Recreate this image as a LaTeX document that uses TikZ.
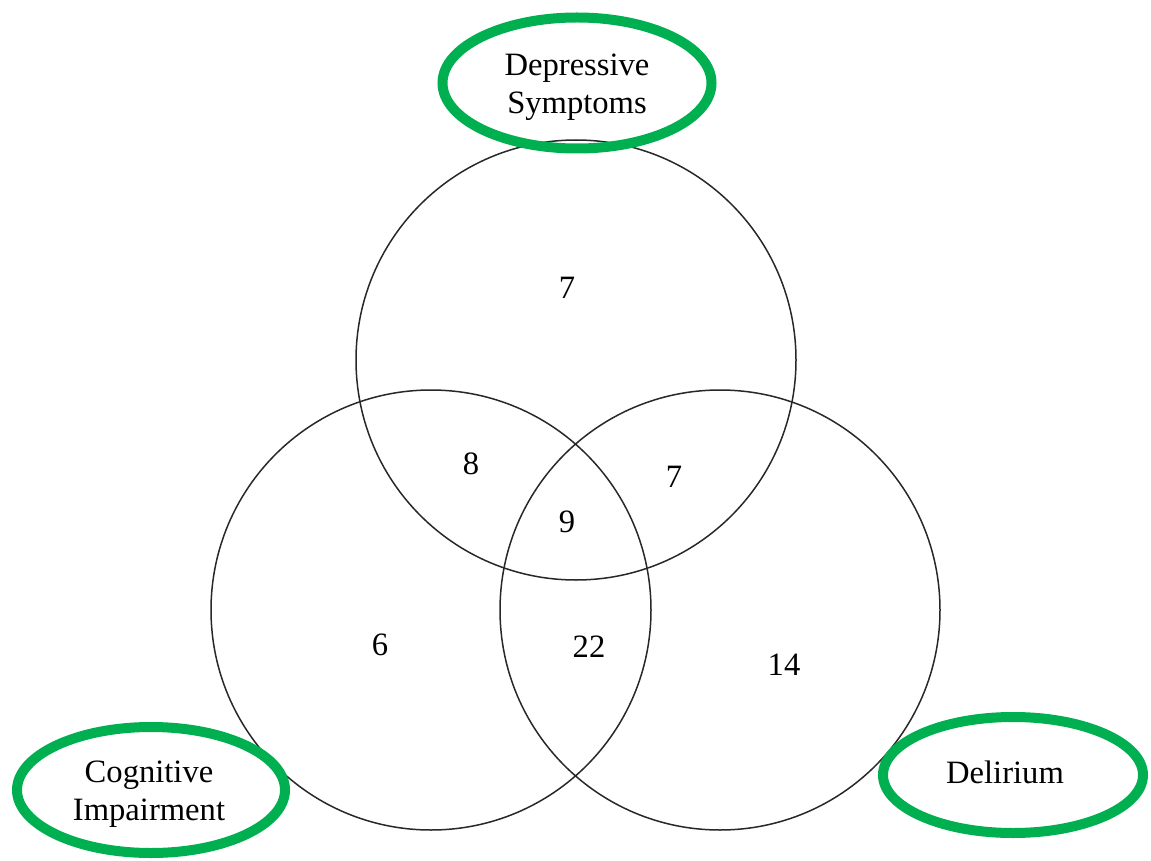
\documentclass[tikz,border=0pt]{standalone}
\usepackage{fontspec}
\setmainfont{Liberation Serif}
\usepackage{xcolor}
\usetikzlibrary{shapes.geometric, backgrounds}
\definecolor{corRotulo}{RGB}{0,176,80}
\definecolor{corLinha}{RGB}{40,40,40}

\begin{document}
\begin{tikzpicture}[x=0.5pt, y=-0.5pt, every node/.style={font=\fontsize{16.3}{19}\selectfont}]
    \tikzstyle{conjunto}=[circle, draw=corLinha, line width=0.75pt, minimum size=220pt, inner sep=0pt]
    \tikzstyle{rotulo}=[ellipse, draw=corRotulo, line width=5pt, inner sep=0pt]
    \tikzstyle{texto}=[align=center, inner sep=0pt]
    \tikzstyle{valor}=[inner sep=0pt]
    \useasboundingbox (0,0) rectangle (1151,861);
    % conjuntos
    \node[conjunto] (dep) at (576,360) {};
    \node[conjunto] (cog) at (431,610) {};
    \node[conjunto] (del) at (720,610) {};
    % valores
    \node[valor] (soDep) at (567,288) {7};
    \node[valor] (depCog) at (471,464) {8};
    \node[valor] (depDel) at (674,477) {7};
    \node[valor] (todos) at (567,522) {9};
    \node[valor] (soCog) at (380,645) {6};
    \node[valor] (cogDel) at (589,647) {22};
    \node[valor] (soDel) at (784,665) {14};
    % rotulos
    \node[rotulo, minimum width=134.5pt, minimum height=65.5pt] (rDep) at (577,83) {};
    \node[texto] (tDep) at (577,87) {Depressive\\Symptoms};
    \node[rotulo, minimum width=134pt, minimum height=63pt] (rCog) at (151,790) {};
    \node[texto] (tCog) at (149,794) {Cognitive\\Impairment};
    \node[rotulo, minimum width=130pt, minimum height=58pt] (rDel) at (1013,775) {};
    \node[texto] (tDel) at (1005,772) {Delirium};
\end{tikzpicture}
\end{document}
